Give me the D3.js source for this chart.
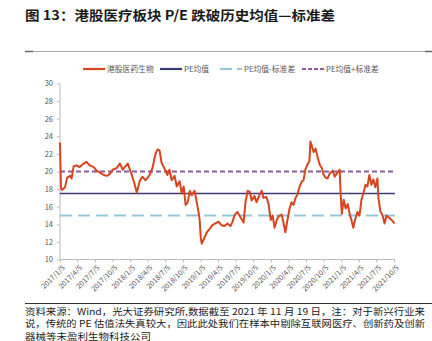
<!DOCTYPE html>
<html><head><meta charset="utf-8">
<script src="https://cdn.jsdelivr.net/npm/d3@7"></script>
<style>body{margin:0;background:#fff}svg{display:block}</style>
</head><body><svg id="c" width="432" height="341"></svg>
<script>
const seriesName = "港股医药生物";
const dates = ["2017-01-05","2017-01-10","2017-01-15","2017-01-31","2017-02-11","2017-02-26","2017-03-06","2017-03-17","2017-04-02","2017-04-17","2017-05-08","2017-05-23","2017-06-08","2017-06-29","2017-07-14","2017-07-30","2017-08-20","2017-09-05","2017-09-20","2017-10-06","2017-10-27","2017-11-12","2017-11-27","2017-12-07","2017-12-23","2018-01-03","2018-01-13","2018-01-23","2018-02-08","2018-02-24","2018-03-09","2018-03-25","2018-04-15","2018-04-30","2018-05-16","2018-05-26","2018-06-06","2018-06-16","2018-07-02","2018-07-17","2018-07-27","2018-08-08","2018-08-23","2018-09-03","2018-09-18","2018-09-29","2018-10-09","2018-10-19","2018-10-30","2018-11-10","2018-11-20","2018-12-05","2018-12-15","2018-12-26","2018-12-31","2019-01-06","2019-01-11","2019-01-21","2019-02-07","2019-02-22","2019-03-07","2019-03-23","2019-04-08","2019-04-23","2019-05-09","2019-05-24","2019-06-09","2019-06-20","2019-06-30","2019-07-15","2019-07-31","2019-08-16","2019-08-26","2019-09-06","2019-09-17","2019-09-27","2019-10-12","2019-10-22","2019-11-08","2019-11-18","2019-11-28","2019-12-13","2019-12-24","2020-01-04","2020-01-14","2020-01-24","2020-02-04","2020-02-14","2020-03-01","2020-03-10","2020-03-20","2020-03-31","2020-04-11","2020-04-21","2020-05-01","2020-05-12","2020-05-22","2020-06-02","2020-06-12","2020-06-22","2020-07-03","2020-07-13","2020-07-23","2020-07-28","2020-08-03","2020-08-14","2020-08-24","2020-09-04","2020-09-14","2020-09-25","2020-10-05","2020-10-15","2020-10-25","2020-11-06","2020-11-21","2020-12-01","2020-12-16","2020-12-27","2021-01-01","2021-01-07","2021-01-17","2021-01-27","2021-02-07","2021-02-17","2021-02-27","2021-03-08","2021-03-18","2021-03-29","2021-04-09","2021-04-19","2021-04-29","2021-05-10","2021-05-20","2021-05-30","2021-06-10","2021-06-20","2021-06-30","2021-07-11","2021-07-16","2021-07-26","2021-08-07","2021-08-17","2021-08-27","2021-09-07","2021-09-17","2021-09-27","2021-10-08"];
const peValues = [23.3,18.2,17.9,18.2,19.3,19.5,19.2,20.6,20.7,20.5,20.9,21.1,20.7,20.5,20.1,19.9,19.6,19.5,19.7,20.2,20.4,20.9,20.2,20.5,20.9,20.2,19.6,18.9,17.6,19.0,19.4,19.0,19.6,20.4,22.0,22.5,22.4,21.0,20.3,19.6,20.2,19.0,19.5,18.3,18.9,17.5,18.3,16.2,16.5,17.8,17.3,17.8,16.6,15.3,14.5,12.4,11.8,12.3,13.1,13.5,13.9,14.1,14.3,13.9,13.8,14.1,13.8,14.3,15.0,15.4,14.8,14.2,16.5,17.8,17.7,16.7,17.2,16.5,17.4,17.8,17.0,17.1,16.3,14.5,15.0,13.6,14.5,14.9,15.1,14.2,13.1,14.5,15.8,16.5,16.2,17.0,17.4,18.3,18.8,19.0,20.3,20.8,21.2,23.4,23.0,22.2,22.6,21.6,20.8,20.4,19.6,19.3,19.2,19.8,20.1,19.4,19.9,20.2,17.5,15.2,16.8,15.8,16.3,15.2,14.4,13.6,14.6,15.4,15.0,16.8,17.5,18.5,18.3,19.6,18.5,19.1,18.2,19.2,17.0,15.5,15.0,14.1,15.0,14.8,14.6,14.4,14.1];
const peMean = 17.5;
const peMeanMinusStd = 15.0;
const peMeanPlusStd = 20.0;
const yTicks = [10,12,14,16,18,20,22,24,26,28,30];
const xTickDates = ["2017-01-05","2017-04-05","2017-07-05","2017-10-05","2018-01-05","2018-04-05","2018-07-05","2018-10-05","2019-01-05","2019-04-05","2019-07-05","2019-10-05","2020-01-05","2020-04-05","2020-07-05","2020-10-05","2021-01-05","2021-04-05","2021-07-05","2021-10-05"];
const legendLabels = ["港股医药生物","PE均值","PE均值-标准差","PE均值+标准差"];
const titleText = "图 13：港股医疗板块 P/E 跌破历史均值—标准差";
const noteLines = ["资料来源：Wind，光大证券研究所,数据截至 2021 年 11 月 19 日，注：对于新兴行业来","说，传统的 PE 估值法失真较大，因此此处我们在样本中剔除互联网医疗、创新药及创新","器械等未盈利生物科技公司"];

const FONT = "'Noto Sans CJK SC','Noto Sans',sans-serif";
const svg = d3.select("#c").style("font-family", FONT);
const parse = d3.timeParse("%Y-%m-%d");
const data = dates.map((d,i)=>({date:parse(d), v:peValues[i]}));

const x = d3.scaleTime().domain([parse("2017-01-05"), parse("2021-10-05")]).range([60, 394]);
const y = d3.scaleLinear().domain([10,30]).range([259.5, 83.5]);
const xEnd = 395;

// title
svg.append("text").attr("x",25).attr("y",20).attr("font-size",13).attr("font-weight","bold")
  .attr("fill","#1a1a1a").attr("textLength",310).attr("lengthAdjust","spacingAndGlyphs").text(titleText);
svg.append("line").attr("x1",25).attr("x2",432).attr("y1",51.5).attr("y2",51.5).attr("stroke","#aaa").attr("stroke-width",1);
svg.append("line").attr("x1",25).attr("x2",33).attr("y1",51.5).attr("y2",51.5).attr("stroke","#666").attr("stroke-width",1.5);
svg.append("line").attr("x1",425).attr("x2",432).attr("y1",51.5).attr("y2",51.5).attr("stroke","#666").attr("stroke-width",1.5);

// axes
const yAxis = svg.append("g").attr("transform","translate(60,0)")
  .call(d3.axisLeft(y).tickValues(yTicks).tickSize(3).tickPadding(4));
yAxis.selectAll("text").attr("font-size",7.5).attr("fill","#555").style("font-family",FONT);
yAxis.selectAll("line").attr("stroke","#bbb");
yAxis.select(".domain").attr("stroke","#bbb").attr("d","M0,83.5V259.5");

const xAxis = svg.append("g").attr("transform","translate(0,259.5)")
  .call(d3.axisBottom(x).tickValues(xTickDates.map(parse)).tickSize(3)
    .tickFormat(d=>`${d.getFullYear()}/${d.getMonth()+1}/${d.getDate()}`));
xAxis.select(".domain").attr("stroke","#bbb").attr("d","M60,0H395");
xAxis.selectAll("line").attr("stroke","#bbb");
xAxis.selectAll("text").attr("font-size",7.2).attr("fill","#555").style("font-family",FONT)
  .attr("x",0).attr("y",0).attr("dy","0.35em").attr("text-anchor","end")
  .attr("transform","translate(3,7) rotate(-45)");

// reference lines
const refs = [
  {v:peMeanPlusStd, color:"#8b5a9f", dash:"5,3", w:2},
  {v:peMeanMinusStd, color:"#93c6d8", dash:"12,6", w:2},
  {v:peMean, color:"#3d3b73", dash:null, w:1.6}
];
refs.forEach(r=>{
  svg.append("line").attr("x1",60).attr("x2",xEnd).attr("y1",y(r.v)).attr("y2",y(r.v))
    .attr("stroke",r.color).attr("stroke-width",r.w).attr("stroke-dasharray",r.dash);
});

// series
svg.append("path").datum(data).attr("fill","none").attr("stroke","#d7441d").attr("stroke-width",2)
  .attr("stroke-linejoin","round")
  .attr("d", d3.line().x(d=>x(d.date)).y(d=>y(d.v)));

// legend
const legend = [
  {label:legendLabels[0], x:83, color:"#d7441d", dash:null, w:2.2},
  {label:legendLabels[1], x:160, color:"#3d3b73", dash:null, w:2.2},
  {label:legendLabels[2], x:220, color:"#93c6d8", dash:"12,5", w:2},
  {label:legendLabels[3], x:302, color:"#8b5a9f", dash:"4,2", w:2}
];
legend.forEach(l=>{
  svg.append("line").attr("x1",l.x).attr("x2",l.x+22).attr("y1",69).attr("y2",69)
    .attr("stroke",l.color).attr("stroke-width",l.w).attr("stroke-dasharray",l.dash);
  svg.append("text").attr("x",l.x+24).attr("y",71.8).attr("font-size",7.8).attr("fill","#555").text(l.label);
});

// note
svg.append("line").attr("x1",25).attr("x2",432).attr("y1",303.5).attr("y2",303.5).attr("stroke","#333").attr("stroke-width",1);
const noteY=[314.5,327.3,339.5];
noteLines.forEach((t,i)=>{
  const el = svg.append("text").attr("x",25).attr("y",noteY[i]).attr("font-size",9).attr("fill","#1a1a1a").text(t);
  if(i<2) el.attr("textLength",400).attr("lengthAdjust","spacingAndGlyphs");
  else el.attr("textLength",126).attr("lengthAdjust","spacingAndGlyphs");
});
</script>
</body></html>
